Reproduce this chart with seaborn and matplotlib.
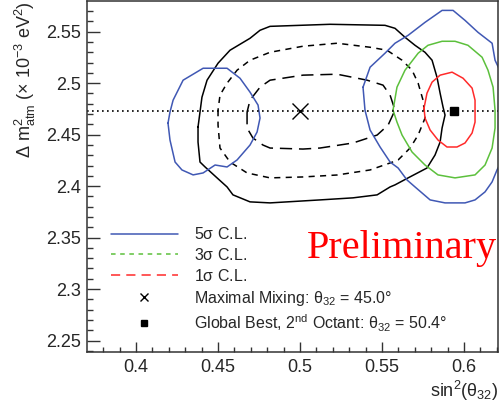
import numpy as np
import pandas as pd
import matplotlib
matplotlib.use("Agg")
import matplotlib.pyplot as plt
import seaborn as sns
from matplotlib.lines import Line2D

sns.set_theme(style="white")
plt.rcParams["font.family"] = ["Liberation Sans", "DejaVu Sans"]
plt.rcParams["mathtext.default"] = "regular"

# ---------------------------
# Contour outlines (sin^2 theta23, dm2 in 1e-3 eV^2)
# ---------------------------
# black = older / reference result
blk5_x = [0.4378, 0.4378, 0.4390, 0.4421, 0.4494, 0.4555, 0.4591, 0.4695, 0.4817, 0.5122,
          0.5323, 0.5470, 0.5549, 0.5579, 0.5659, 0.5774, 0.5823, 0.5854, 0.5866, 0.5884,
          0.5872, 0.5854, 0.5835, 0.5805, 0.5762, 0.5701, 0.5640, 0.5579, 0.5518, 0.5183,
          0.4817, 0.4756, 0.4695, 0.4573, 0.4500, 0.4433, 0.4402]
blk5_y = [2.4574, 2.4428, 2.4234, 2.4186, 2.4080, 2.3992, 2.3915, 2.3847, 2.3837, 2.3866,
          2.3886, 2.3915, 2.3992, 2.4012, 2.4080, 2.4176, 2.4302, 2.4428, 2.4564, 2.4690,
          2.4767, 2.4903, 2.5058, 2.5223, 2.5300, 2.5368, 2.5446, 2.5533, 2.5562, 2.5572,
          2.5552, 2.5514, 2.5436, 2.5320, 2.5194, 2.5029, 2.4864]

blk3_x = [0.4500, 0.4500, 0.4512, 0.4573, 0.4677, 0.4817, 0.5018, 0.5226, 0.5427, 0.5549,
          0.5598, 0.5671, 0.5720, 0.5762, 0.5750, 0.5720, 0.5683, 0.5622, 0.5530, 0.5427,
          0.5226, 0.5018, 0.4817, 0.4695, 0.4616, 0.4555, 0.4512]
blk3_y = [2.4738, 2.4593, 2.4370, 2.4234, 2.4128, 2.4080, 2.4089, 2.4108, 2.4157, 2.4225,
          2.4254, 2.4370, 2.4496, 2.4661, 2.4835, 2.5000, 2.5126, 2.5223, 2.5320, 2.5349,
          2.5388, 2.5359, 2.5300, 2.5223, 2.5126, 2.5000, 2.4884]

blk1_x = [0.4677, 0.4677, 0.4713, 0.4774, 0.4817, 0.5018, 0.5122, 0.5323, 0.5470, 0.5537,
          0.5579, 0.5549, 0.5506, 0.5409, 0.5226, 0.5018, 0.4817, 0.4756, 0.4695]
blk1_y = [2.4719, 2.4564, 2.4467, 2.4399, 2.4370, 2.4360, 2.4370, 2.4419, 2.4496, 2.4593,
          2.4738, 2.4884, 2.4981, 2.5029, 2.5087, 2.5078, 2.5029, 2.4961, 2.4835]

# coloured = new result
blue_l_x = [0.4195, 0.4207, 0.4238, 0.4280, 0.4348, 0.4409, 0.4482, 0.4555, 0.4616, 0.4695,
            0.4738, 0.4756, 0.4744, 0.4695, 0.4634, 0.4555, 0.4409, 0.4287, 0.4226, 0.4207]
blue_l_y = [2.4612, 2.4448, 2.4234, 2.4157, 2.4109, 2.4128, 2.4205, 2.4186, 2.4254, 2.4399,
            2.4525, 2.4661, 2.4787, 2.4913, 2.5048, 2.5145, 2.5145, 2.5029, 2.4835, 2.4719]

blue_r_x = [0.5384, 0.5396, 0.5427, 0.5488, 0.5549, 0.5598, 0.5652, 0.5701, 0.5793, 0.5884,
            0.6006, 0.6067, 0.6128, 0.6171, 0.6201, 0.6232, 0.6232, 0.6189, 0.6171, 0.6085,
            0.6006, 0.5933, 0.5866, 0.5762, 0.5659, 0.5579, 0.5518, 0.5427]
blue_r_y = [2.4961, 2.4738, 2.4545, 2.4380, 2.4234, 2.4176, 2.4060, 2.3992, 2.3866, 2.3837,
            2.3837, 2.3866, 2.3944, 2.4041, 2.4157, 2.4254, 2.5078, 2.5223, 2.5388, 2.5494,
            2.5610, 2.5707, 2.5707, 2.5591, 2.5465, 2.5388, 2.5291, 2.5155]

green_x = [0.5567, 0.5591, 0.5622, 0.5683, 0.5762, 0.5841, 0.5945, 0.6067, 0.6128, 0.6171,
           0.6189, 0.6189, 0.6177, 0.6146, 0.6110, 0.6024, 0.5945, 0.5866, 0.5780, 0.5720,
           0.5640, 0.5591]
green_y = [2.4738, 2.4622, 2.4496, 2.4331, 2.4205, 2.4109, 2.4080, 2.4109, 2.4205, 2.4370,
           2.4564, 2.4738, 2.4961, 2.5126, 2.5252, 2.5368, 2.5407, 2.5407, 2.5368, 2.5291,
           2.5126, 2.4961]

red_x = [0.5756, 0.5762, 0.5793, 0.5841, 0.5896, 0.5957, 0.6006, 0.6049, 0.6067, 0.6067,
         0.6049, 0.5994, 0.5927, 0.5854, 0.5805, 0.5774]
red_y = [2.4758, 2.4661, 2.4545, 2.4448, 2.4380, 2.4380, 2.4419, 2.4516, 2.4622, 2.4835,
         2.4952, 2.5048, 2.5107, 2.5078, 2.5010, 2.4903]

max_mix = (0.5, 2.473)
best_fit = (0.594, 2.473)

BLUE = "#4058b4"
GREEN = "#5cc03c"
RED = "#ff2a2a"


def _closed(xs, ys):
    return pd.DataFrame({"x": list(xs) + [xs[0]], "y": list(ys) + [ys[0]]})


def _contour(ax, xs, ys, color, ls="-", lw=1.1):
    df = _closed(xs, ys)
    sns.lineplot(data=df, x="x", y="y", sort=False, estimator=None, ax=ax,
                 color=color, linestyle=ls, linewidth=lw)


fig = plt.figure(figsize=(4.99, 4.12), dpi=100)
ax = fig.add_axes([0.174, 0.146, 0.824, 0.852])

_contour(ax, blk5_x, blk5_y, "black")
_contour(ax, blk3_x, blk3_y, "black", ls=(0, (4, 3.5)))
_contour(ax, blk1_x, blk1_y, "black", ls=(0, (8, 4.5)))
_contour(ax, blue_l_x, blue_l_y, BLUE)
_contour(ax, blue_r_x, blue_r_y, BLUE)
_contour(ax, green_x, green_y, GREEN)
_contour(ax, red_x, red_y, RED)

ax.axhline(max_mix[1], color="black", linestyle=(0, (1, 2)), linewidth=1.2)
ax.plot(*max_mix, marker="x", color="black", markersize=12, markeredgewidth=1.0)
ax.plot(*best_fit, marker="s", color="black", markersize=6)

ax.set_xlim(0.37, 0.6207)
ax.set_ylim(2.239, 2.58)
ax.set_xticks([0.4, 0.45, 0.5, 0.55, 0.6])
ax.set_xticklabels(["0.4", "0.45", "0.5", "0.55", "0.6"])
ax.set_yticks([2.25, 2.3, 2.35, 2.4, 2.45, 2.5, 2.55])
ax.set_yticklabels(["2.25", "2.3", "2.35", "2.4", "2.45", "2.5", "2.55"])
ax.set_xticks(np.arange(0.38, 0.621, 0.01), minor=True)
ax.set_yticks(np.arange(2.24, 2.58, 0.01), minor=True)
ax.tick_params(axis="both", which="both", direction="in", top=False, right=False,
               bottom=True, left=True, labelsize=13, color="#333333", width=1.0)
ax.tick_params(axis="y", which="major", length=9, pad=4)
ax.tick_params(axis="y", which="minor", length=4.3)
ax.tick_params(axis="x", which="major", length=7, pad=5)
ax.tick_params(axis="x", which="minor", length=3.6)
for sp in ax.spines.values():
    sp.set_color("#333333")
    sp.set_linewidth(1.1)

ax.set_xlabel(r"sin$^{2}$($\theta_{32}$)", fontsize=13, loc="right", labelpad=2)
ax.set_ylabel(r"$\Delta$ m$^{2}_{atm}$ (× 10$^{-3}$ eV$^{2}$)", fontsize=13, loc="top",
              labelpad=6)

ax.text(0.998, 0.268, "Preliminary", transform=ax.transAxes, ha="right", va="baseline",
        color="red", fontsize=29, family=["Liberation Serif", "DejaVu Serif"])

handles = [
    Line2D([], [], color=BLUE, linestyle="-", linewidth=1.1),
    Line2D([], [], color=GREEN, linestyle=(0, (3, 3)), linewidth=1.1),
    Line2D([], [], color=RED, linestyle=(0, (6, 4)), linewidth=1.1),
    Line2D([], [], color="black", linestyle="none", marker="x", markersize=6,
           markeredgewidth=1.0),
    Line2D([], [], color="black", linestyle="none", marker="s", markersize=5),
]
labels = [
    r"5$\sigma$ C.L.",
    r"3$\sigma$ C.L.",
    r"1$\sigma$ C.L.",
    r"Maximal Mixing: $\theta_{32}$ = 45.0°",
    r"Global Best, 2$^{nd}$ Octant: $\theta_{32}$ = 50.4°",
]
ax.legend(handles, labels, loc="upper left", bbox_to_anchor=(0.058, 0.358), frameon=False,
          fontsize=11.5, handlelength=4.2, handletextpad=1.0, labelspacing=0.3,
          borderpad=0, borderaxespad=0)

fig.savefig("out.png", dpi=100)
